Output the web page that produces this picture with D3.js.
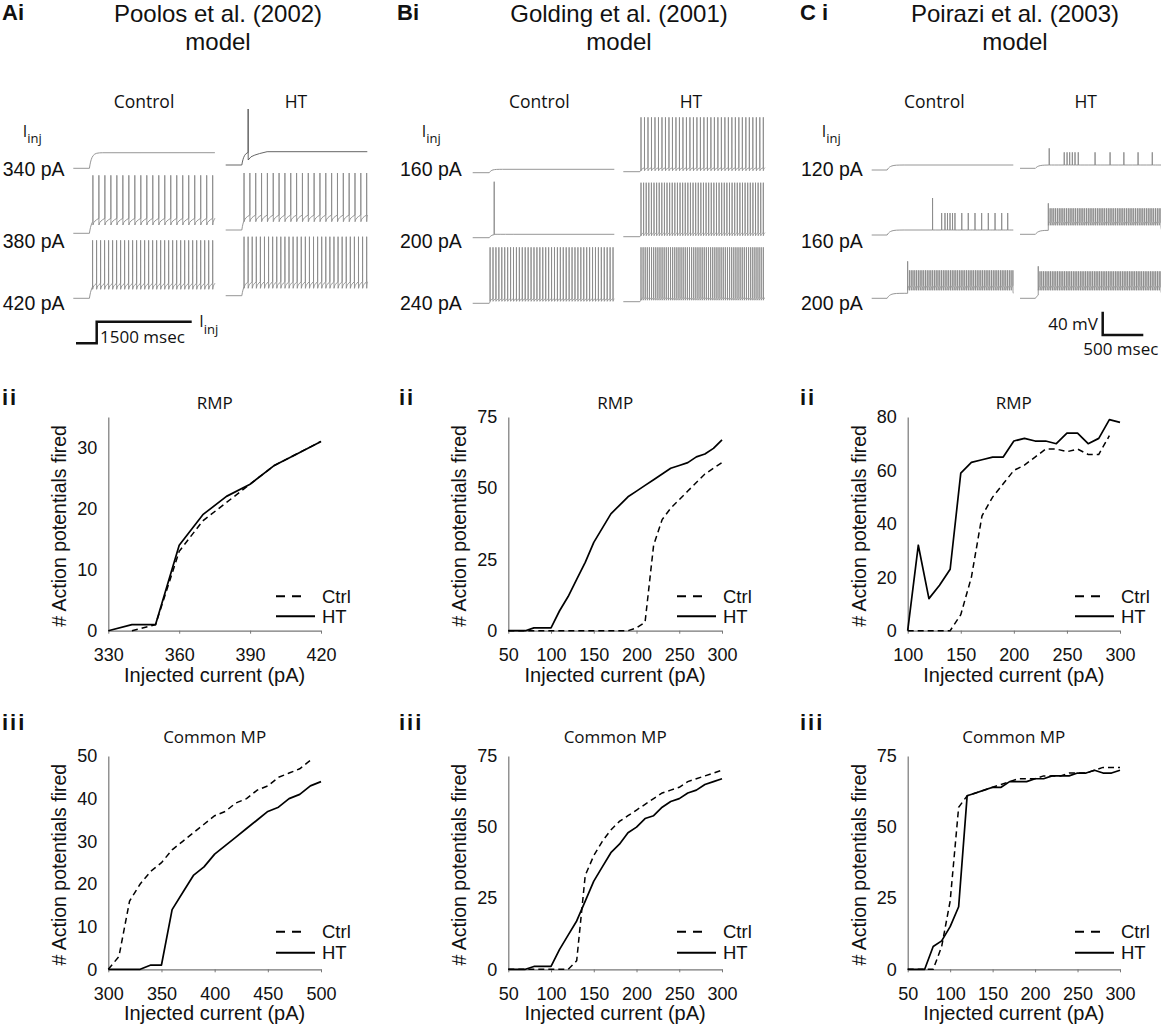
<!DOCTYPE html>
<html>
<head>
<meta charset="utf-8">
<script src="https://cdn.jsdelivr.net/npm/d3@7"></script>
<style>
  body { margin: 0; background: #fff; }
  svg text { font-family: "Liberation Sans", Arial, sans-serif; fill: #111; }
  svg text.os { font-family: "Open Sans", "Noto Sans", sans-serif; }
</style>
</head>
<body>
<svg id="fig"></svg>
<script>
// ---------------- data ----------------
// sample sweeps (row i)
const poolosSweeps = ["340 pA", "380 pA", "420 pA"];
const goldingSweeps = ["160 pA", "200 pA", "240 pA"];
const poiraziSweeps = ["120 pA", "160 pA", "200 pA"];

// spike trains of the sample sweeps: [spike count, first spike (ms), last spike (ms)]
const poolosCtrlTrains = [[0], [21, 310, 2205], [31, 305, 2205]];
const poolosHtTrains = [[1, 355, 355], [22, 290, 2230], [31, 290, 2230]];
const goldingCtrlTrains = [[0], [1, 340, 340], [43, 275, 2220]];
const goldingHtTrains = [[36, 280, 2215], [48, 280, 2215], [59, 280, 2215]];
const poiraziCtrlTrains = [[0], null, [60, 443, 1740]];
const poiraziHtTrains = [null, [63, 349, 1737], [71, 225, 1737]];
// irregular Poirazi sweeps, spike times (ms)
const poiraziCtrl160Times = [750, 862, 903, 934, 965, 996, 1026, 1110, 1190, 1273, 1355, 1437, 1520, 1602, 1676];
const poiraziHt120Times = [360, 545, 580, 612, 645, 678, 718, 925, 1110, 1280, 1455, 1630];

// f-I curves: number of action potentials vs injected current (pA)
const poolosRmpCurrent = [330, 340, 350, 360, 370, 380, 390, 400, 410, 420];
const poolosRmpCtrl = [null, 0, 1, 13, 18, 21, 24, 27, 29, 31];
const poolosRmpHt = [0, 1, 1, 14, 19, 22, 24, 27, 29, 31];

const goldingRmpCurrent = d3.range(50, 301, 10);
const goldingRmpCtrl = [0, 0, 0, 0, 0, 0, 0, 0, 0, 0, 0, 0, 0, 0, 0, 1, 3, 30, 39, 43, 46, 49, 52, 55, 57, 59];
const goldingRmpHt = [0, 0, 0, 1, 1, 1, 7, 12, 18, 24, 31, 36, 41, 44, 47, 49, 51, 53, 55, 57, 58, 59, 61, 62, 64, 67];

const poiraziRmpCurrent = d3.range(100, 301, 10);
const poiraziRmpCtrl = [0, 0, 0, 0, 0, 6, 20, 43, 50, 55, 60, 62, 65, 68, 68, 67, 68, 66, 66, 73, null];
const poiraziRmpHt = [0, 32, 12, 17, 23, 59, 63, 64, 65, 65, 71, 72, 71, 71, 70, 74, 74, 70, 72, 79, 78];

const poolosCmpCurrent = d3.range(300, 501, 10);
const poolosCmpCtrl = [0, 3, 16, 20, 23, 25, 28, 30, 32, 34, 36, 37, 39, 40, 42, 43, 45, 46, 47, 49, null];
const poolosCmpHt = [0, 0, 0, 0, 1, 1, 14, 18, 22, 24, 27, 29, 31, 33, 35, 37, 38, 40, 41, 43, 44];

const goldingCmpCurrent = d3.range(50, 301, 10);
const goldingCmpCtrl = [0, 0, 0, 0, 0, 0, 0, 0, 3, 33, 40, 45, 49, 52, 54, 56, 58, 60, 62, 63, 64, 66, 67, 68, 69, 70];
const goldingCmpHt = [0, 0, 0, 1, 1, 1, 7, 12, 17, 24, 31, 36, 41, 44, 48, 50, 53, 54, 57, 59, 60, 62, 63, 65, 66, 67];

const poiraziCmpCurrent = d3.range(50, 301, 10);
const poiraziCmpCtrl = [0, 0, 0, 0, 8, 24, 57, 61, 62, 63, 64, 65, 66, 67, 67, 67, 68, 68, 68, 69, 69, 69, 70, 71, 71, 71];
const poiraziCmpHt = [0, 0, 0, 8, 10, 15, 22, 61, 62, 63, 64, 64, 66, 66, 66, 67, 67, 68, 68, 68, 69, 69, 70, 69, 69, 70];

// ---------------- figure ----------------
const svg = d3.select("#fig").attr("width", 1161).attr("height", 1026);

// column headers
const headers = [
  { tag: "Ai", tagX: 2, title: "Poolos et al. (2002)", cx: 218 },
  { tag: "Bi", tagX: 397, title: "Golding et al. (2001)", cx: 619 },
  { tag: "C i", tagX: 800, title: "Poirazi et al. (2003)", cx: 1015 }
];
headers.forEach(h => {
  svg.append("text").attr("x", h.tagX).attr("y", 19.5)
    .style("font-size", "22px").style("font-weight", "bold").attr("xml:space", "preserve").text(h.tag);
  svg.append("text").attr("x", h.cx).attr("y", 21.5).attr("text-anchor", "middle")
    .style("font-size", "24px").text(h.title);
  svg.append("text").attr("x", h.cx).attr("y", 49.5).attr("text-anchor", "middle")
    .style("font-size", "24px").text("model");
});

// ---------- sample voltage traces ----------
// shapes are heights (px) above the resting line
const traceBlocks = [
  {
    sweeps: poolosSweeps, ctrl: poolosCtrlTrains, ht: poolosHtTrains,
    labelX: 2.7, iX: 22.7, ctrlX: 73.3, htX: 225.7, ms: 2240, onset: 255,
    ctrlLab: 144, htLab: 296,
    ctrlRest: [168.3, 233.3, 298.3], htRest: [165, 230, 295.7],
    ctrlShape: [{ plateau: 15.6 }, { thr: 15, trough: 8.3, peak: 58 }, { thr: 15, trough: 9, peak: 58 }],
    htShape: [{ plateau: 13.3, thr: 13.3, trough: 5, peak: 56, color: "#555" },
              { thr: 15, trough: 8.3, peak: 57 }, { thr: 14, trough: 7.4, peak: 59 }]
  },
  {
    sweeps: goldingSweeps, ctrl: goldingCtrlTrains, ht: goldingHtTrains,
    labelX: 400, iX: 421.7, ctrlX: 472.7, htX: 623.3, ms: 2240, onset: 262,
    ctrlLab: 539.3, htLab: 691,
    ctrlRest: [172.7, 237.7, 303.3], htRest: [171.7, 236.7, 301.7],
    ctrlShape: [{ plateau: 3.4 }, { plateau: 3.4, thr: 3.4, trough: 3.4, peak: 56 }, { thr: 4.5, trough: 2, peak: 56 }],
    htShape: [{ thr: 4, trough: 1, peak: 54.4 }, { thr: 4, trough: 1, peak: 54 }, { thr: 4, trough: 1.5, peak: 54.4 }]
  },
  {
    sweeps: poiraziSweeps, ctrl: poiraziCtrlTrains, ht: poiraziHtTrains,
    labelX: 801, iX: 821.7, ctrlX: 871.7, htX: 1020, ms: 1745, onset: 190,
    ctrlLab: 934.3, htLab: 1085.7,
    ctrlRest: [170, 235, 298.3], htRest: [168.3, 234.3, 298.3],
    ctrlShape: [{ plateau: 5 }, { plateau: 5, thr: 5, trough: 5, peak: 22, firstPeak: 37 },
                { plateau: 5, thr: 13, trough: 8, peak: 28, firstPeak: 37 }],
    htShape: [{ plateau: 3.3, thr: 3.3, trough: 3.3, peak: 16, firstPeak: 20 },
              { plateau: 4, thr: 13, trough: 9, peak: 26, firstPeak: 31 },
              { plateau: 5, thr: 13, trough: 8, peak: 27, firstPeak: 32 }],
    explicit: { ctrl: [null, poiraziCtrl160Times, null], ht: [poiraziHt120Times, null, null] }
  }
];

function trainTimes(tr) {
  if (!tr || !tr[0]) return [];
  const [n, first, last] = tr;
  if (n === 1) return [first];
  return d3.range(n).map(i => first + i * (last - first) / (n - 1));
}

function sweepPoints(times, sh, onset, end) {
  const tau = 35;
  const base = sh.plateau !== undefined ? sh.plateau : sh.thr;
  const pts = [[0, 0], [onset, 0]];
  const first = times.length ? times[0] : end;
  for (const k of [0.25, 0.5, 0.8, 1.2, 1.7, 2.4, 3.3, 4.5, 6]) {
    const t = onset + k * tau;
    if (t >= first - 0.5) break;
    pts.push([t, base * (1 - Math.exp(-k))]);
  }
  if (!times.length) { pts.push([end, base]); return pts; }
  times.forEach((t, i) => {
    const pk = i === 0 && sh.firstPeak ? sh.firstPeak : sh.peak;
    if (i === 0) pts.push([t - 0.3, base * (1 - Math.exp(-(t - onset) / tau))]);
    pts.push([t, pk]);
    pts.push([t + 0.8, sh.trough]);
    const next = times[i + 1];
    const stop = next !== undefined ? next - 0.3 : Math.min(end, t + 300);
    const target = next !== undefined ? sh.thr : base;
    for (const f of [0.15, 0.35, 0.6, 1]) {
      pts.push([t + 0.8 + f * (stop - t - 0.8), sh.trough + (target - sh.trough) * Math.sqrt(f)]);
    }
    if (next === undefined && stop < end) pts.push([end, base]);
  });
  return pts;
}

const sweepLabelY = [176, 248.3, 310];
traceBlocks.forEach(b => {
  const g = svg.append("g");
  g.append("text").attr("class", "os").attr("x", b.ctrlLab).attr("y", 108).attr("text-anchor", "middle")
    .style("font-size", "17.5px").text("Control");
  g.append("text").attr("class", "os").attr("x", b.htLab).attr("y", 108).attr("text-anchor", "middle")
    .style("font-size", "17.5px").text("HT");
  const il = g.append("text").attr("class", "os").attr("x", b.iX).attr("y", 136.7).style("font-size", "16px").text("I");
  il.append("tspan").attr("dy", 6.6).style("font-size", "13px").text("inj");
  b.sweeps.forEach((s, i) => {
    g.append("text").attr("x", b.labelX).attr("y", sweepLabelY[i]).style("font-size", "19.5px").text(s);
  });
  [["ctrl", b.ctrlX, b.ctrlRest, b.ctrlShape], ["ht", b.htX, b.htRest, b.htShape]].forEach(([key, x0, rests, shapes]) => {
    const tx = d3.scaleLinear().domain([0, b.ms]).range([x0, x0 + 141.6]);
    b[key].forEach((tr, i) => {
      const times = (b.explicit && b.explicit[key][i]) || trainTimes(tr);
      const sh = shapes[i];
      const pts = sweepPoints(times, sh, b.onset, b.ms);
      const line = d3.line().x(d => tx(d[0])).y(d => rests[i] - d[1]);
      g.append("path").attr("d", line(pts)).attr("fill", "none")
        .attr("stroke", sh.color || "#8a8a8a").attr("stroke-width", 0.9)
        .attr("stroke-linejoin", "round");
    });
  });
});

// scale bars
svg.append("path").attr("d", "M76,343.3H96.7V321.7H191.7").attr("fill", "none")
  .attr("stroke", "#111").attr("stroke-width", 2.5);
svg.append("text").attr("class", "os").attr("x", 100).attr("y", 342.5).style("font-size", "17px").text("1500 msec");
const il2 = svg.append("text").attr("class", "os").attr("x", 199.3).attr("y", 327).style("font-size", "16px").text("I");
il2.append("tspan").attr("dy", 6.6).style("font-size", "13px").text("inj");

svg.append("path").attr("d", "M1102.7,311.7V335H1143.3").attr("fill", "none")
  .attr("stroke", "#111").attr("stroke-width", 2.5);
svg.append("text").attr("class", "os").attr("x", 1098).attr("y", 330).attr("text-anchor", "end")
  .style("font-size", "17px").text("40 mV");
svg.append("text").attr("class", "os").attr("x", 1083.3).attr("y", 355).style("font-size", "17px").text("500 msec");

// ---------- f-I plots ----------
const COLS = [{ x0: 108.3, x1: 321, tag: 2 }, { x0: 508.3, x1: 722, tag: 399 }, { x0: 907.7, x1: 1120, tag: 800 }];
const ROWS = [
  { y0: 417, y1: 630.7, tagY: 405, titleY: 409, legA: 34.5, legB: 14.5, tag: "ii", title: "RMP" },
  { y0: 756, y1: 969.3, tagY: 730, titleY: 742.7, legA: 37.5, legB: 16.5, tag: "iii", title: "Common MP" }
];

const fiPanels = [
  { c: 0, r: 0, x: poolosRmpCurrent, ctrl: poolosRmpCtrl, ht: poolosRmpHt, xd: [330, 420], xt: [330, 360, 390, 420], yd: [0, 35], yt: [0, 10, 20, 30] },
  { c: 1, r: 0, x: goldingRmpCurrent, ctrl: goldingRmpCtrl, ht: goldingRmpHt, xd: [50, 300], xt: d3.range(50, 301, 50), yd: [0, 75], yt: [0, 25, 50, 75] },
  { c: 2, r: 0, x: poiraziRmpCurrent, ctrl: poiraziRmpCtrl, ht: poiraziRmpHt, xd: [100, 300], xt: d3.range(100, 301, 50), yd: [0, 80], yt: [0, 20, 40, 60, 80] },
  { c: 0, r: 1, x: poolosCmpCurrent, ctrl: poolosCmpCtrl, ht: poolosCmpHt, xd: [300, 500], xt: d3.range(300, 501, 50), yd: [0, 50], yt: [0, 10, 20, 30, 40, 50] },
  { c: 1, r: 1, x: goldingCmpCurrent, ctrl: goldingCmpCtrl, ht: goldingCmpHt, xd: [50, 300], xt: d3.range(50, 301, 50), yd: [0, 75], yt: [0, 25, 50, 75] },
  { c: 2, r: 1, x: poiraziCmpCurrent, ctrl: poiraziCmpCtrl, ht: poiraziCmpHt, xd: [50, 300], xt: d3.range(50, 301, 50), yd: [0, 75], yt: [0, 25, 50, 75] }
];

fiPanels.forEach(p => {
  const col = COLS[p.c], row = ROWS[p.r];
  const x = d3.scaleLinear().domain(p.xd).range([col.x0, col.x1]);
  const y = d3.scaleLinear().domain(p.yd).range([row.y1, row.y0]);
  const g = svg.append("g");

  g.append("text").attr("x", col.tag).attr("y", row.tagY).style("font-size", "22px")
    .style("font-weight", "bold").style("letter-spacing", "2px").text(row.tag);
  g.append("text").attr("class", "os").attr("x", (col.x0 + col.x1) / 2).attr("y", row.titleY)
    .attr("text-anchor", "middle").style("font-size", "17px").text(row.title);

  const xa = g.append("g").attr("transform", `translate(0,${row.y1})`)
    .call(d3.axisBottom(x).tickValues(p.xt).tickSize(3).tickSizeOuter(0).tickPadding(15).tickFormat(d3.format("d")));
  const ya = g.append("g").attr("transform", `translate(${col.x0},0)`)
    .call(d3.axisLeft(y).tickValues(p.yt).tickSize(0).tickSizeOuter(0).tickPadding(11).tickFormat(d3.format("d")));
  [xa, ya].forEach(a => {
    a.select(".domain").attr("stroke", "#777").attr("stroke-width", 1.2);
    a.selectAll(".tick line").attr("stroke", "#777");
    a.selectAll(".tick text").style("font-size", "18px").style("font-family", "Liberation Sans, Arial, sans-serif").attr("fill", "#111");
  });

  g.append("text").attr("x", (col.x0 + col.x1) / 2).attr("y", row.y1 + 51).attr("text-anchor", "middle")
    .style("font-size", "20px").text("Injected current (pA)");
  g.append("text").attr("transform", `translate(${col.x0 - 42},${(row.y0 + row.y1) / 2 + 2}) rotate(-90)`)
    .attr("text-anchor", "middle").style("font-size", "19.5px").text("# Action potentials fired");

  const pairs = key => p.x.map((v, i) => [v, p[key][i]]);
  const line = d3.line().defined(d => d[1] !== null).x(d => x(d[0])).y(d => y(d[1]));
  g.append("path").attr("d", line(pairs("ctrl"))).attr("fill", "none").attr("stroke", "#000")
    .attr("stroke-width", 1.5).attr("stroke-dasharray", "6,4");
  g.append("path").attr("d", line(pairs("ht"))).attr("fill", "none").attr("stroke", "#000")
    .attr("stroke-width", 1.7).attr("stroke-linejoin", "round");

  // legend
  const lx = col.x1 + 1;
  const ly1 = row.y1 - row.legA, ly2 = row.y1 - row.legB;
  g.append("line").attr("x1", lx - 46).attr("x2", lx - 20).attr("y1", ly1).attr("y2", ly1)
    .attr("stroke", "#000").attr("stroke-width", 2).attr("stroke-dasharray", "9,7");
  g.append("line").attr("x1", lx - 46).attr("x2", lx - 7).attr("y1", ly2).attr("y2", ly2)
    .attr("stroke", "#000").attr("stroke-width", 2);
  g.append("text").attr("x", lx).attr("y", ly1).attr("dy", "0.35em").style("font-size", "18.5px").text("Ctrl");
  g.append("text").attr("x", lx).attr("y", ly2).attr("dy", "0.35em").style("font-size", "18.5px").text("HT");
});
</script>
</body>
</html>
